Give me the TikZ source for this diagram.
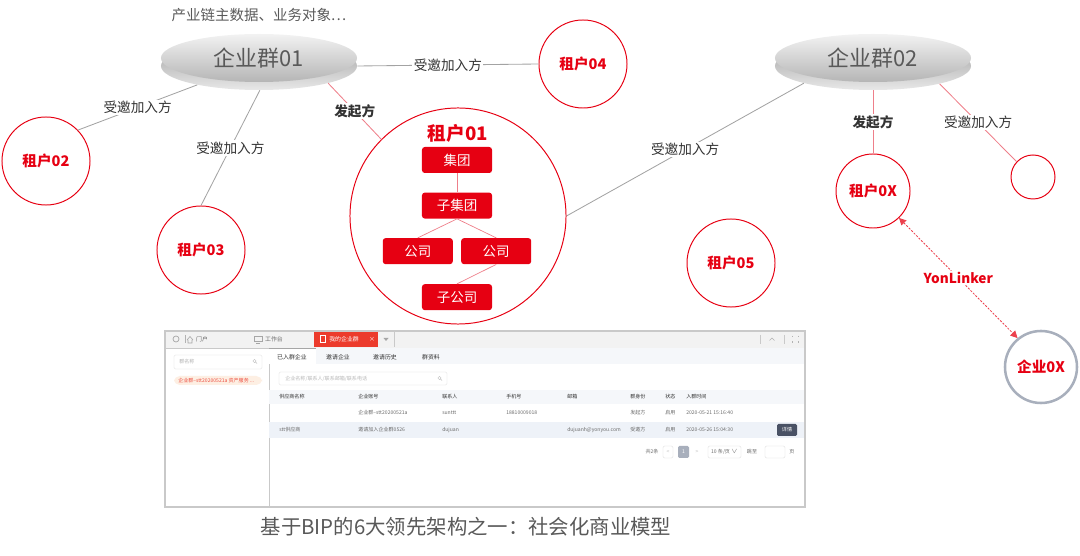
\documentclass[tikz,border=0pt]{standalone}
\definecolor{mRed}{HTML}{E60012}
\definecolor{mPink}{HTML}{EE7F8A}
\definecolor{mLine}{HTML}{A3A3A3}
\definecolor{mInk}{HTML}{333333}
\definecolor{mCap}{HTML}{595959}
\definecolor{mSlate}{HTML}{A8AFBC}
\definecolor{mFrame}{HTML}{C9C9C9}
\definecolor{mBar}{HTML}{F2F2F2}
\definecolor{mTab}{HTML}{EC3B2C}
\definecolor{mRowBg}{HTML}{EEF2F8}
\definecolor{mHeadBg}{HTML}{F5F7FA}
\definecolor{mBtn}{HTML}{4A5265}
\definecolor{mPill}{HTML}{FDEFE3}
\definecolor{mUiTxt}{HTML}{6B6B6B}
\usepackage{fontspec}
\setmainfont{Noto Sans CJK SC}
\usepackage{tikz}
\usetikzlibrary{positioning,arrows.meta,shapes.geometric}

\begin{document}
\begin{tikzpicture}[x=0.025cm, y=-0.025cm,
  tenant/.style={circle, draw=mRed, line width=0.7pt, minimum size=2.2cm, inner sep=0pt, text=mRed, font=\fontsize{10.4}{12}\selectfont\bfseries},
  grp/.style={ellipse, minimum width=4.9cm, minimum height=1.2cm, inner sep=0pt, text=mCap, font=\fontsize{15.6}{18}\selectfont},
  grpface/.style={grp, top color=gray!10, bottom color=gray!58},
  grprim/.style={grp, top color=gray!75, bottom color=gray!18},
  orgbox/.style={fill=mRed, rounded corners=2pt, minimum width=1.75cm, minimum height=0.65cm, inner sep=0pt, text=white, font=\fontsize{9.6}{11}\selectfont},
  lbl/.style={fill=white, inner sep=1pt, text=mInk, font=\fontsize{9.7}{11}\selectfont},
  lblb/.style={lbl, font=\fontsize{9.7}{11}\selectfont\bfseries},
  ui/.style={inner sep=0pt, text=mUiTxt, font=\fontsize{3.6}{4}\selectfont},
  uitab/.style={ui, text=mInk, font=\fontsize{4.2}{5}\selectfont},
]
\useasboundingbox (0,0) rectangle (1080,556);

% group discs
\node[grprim] (grp1b) at (259,66) {};
\node[grpface] (grp1) at (259,58) {企业群01};
\node[grprim] (grp2b) at (873,66) {};
\node[grpface] (grp2) at (873,58) {企业群02};
\node[text=mCap, font=\fontsize{10.3}{12}\selectfont] (note) at (259,15) {产业链主数据、业务对象…};

% tenants
\node[tenant] (t02) at (46,161) {租户02};
\node[tenant] (t03) at (201,250) {租户03};
\node[tenant] (t04) at (583,64) {租户04};
\node[tenant] (t05) at (731,263) {租户05};
\node[tenant, minimum size=5.4cm] (t01) at (458,216) {};
\node[text=mRed, font=\fontsize{13.3}{15}\selectfont\bfseries] (t01t) at (458,133) {租户01};
\node[tenant, minimum size=1.85cm] (t0x) at (873,191) {租户0X};
\node[tenant, minimum size=1.1cm] (t0y) at (1033,177) {};
\node[tenant, draw=mSlate, line width=1.8pt, minimum size=1.8cm] (e0x) at (1041,367) {企业0X};

% org tree inside 租户01
\node[orgbox] (jt) at (457,160) {集团};
\node[orgbox, below=0.475cm of jt] (zjt) {子集团};
\node[orgbox, below=0.475cm of zjt, xshift=-0.98cm] (gs1) {公司};
\node[orgbox, below=0.475cm of zjt, xshift=0.98cm] (gs2) {公司};
\node[orgbox, below=1.625cm of zjt] (zgs) {子公司};
\draw[mPink, line width=0.5pt] (jt.south) -- (zjt.north);
\draw[mPink, line width=0.5pt] (zjt.south) -- (gs1.north);
\draw[mPink, line width=0.5pt] (zjt.south) -- (gs2.north);
\draw[mPink, line width=0.5pt] (gs2.south) -- (zgs.north);

% links
\draw[mLine, line width=0.6pt] (grp1b.197) -- node[lbl]{受邀加入方} (t02.44);
\draw[mLine, line width=0.6pt] (grp1b.-88) -- node[lbl]{受邀加入方} (t03.90);
\draw[mLine, line width=0.6pt] (grp1b.east) -- node[lbl]{受邀加入方} (t04.west);
\draw[mPink, line width=0.6pt] (grp1b.-14) -- node[lblb]{发起方} (t01.135);
\draw[mLine, line width=0.6pt] (t01.0) -- node[lbl]{受邀加入方} (grp2b.194);
\draw[mPink, line width=0.6pt] (grp2b.south) -- node[lblb]{发起方} (t0x.north);
\draw[mPink, line width=0.6pt] (grp2b.-15) -- node[lbl]{受邀加入方} (t0y.137);
\draw[mRed!75, line width=0.6pt, dash pattern=on 1.5pt off 1pt, {Triangle[length=5pt,width=5pt]}-{Triangle[length=5pt,width=5pt]}] (t0x.-46) -- node[lblb, text=mRed]{YonLinker} (e0x.129);

% screenshot: 我的企业群
\fill[white] (165,331) rectangle (805,507);
\fill[mBar] (165,331) rectangle (805,348);
\fill[mTab] (314,332) rectangle (378,347);
\draw[mFrame, line width=0.3pt] (165,348) -- (805,348);
\draw[gray!70, line width=0.5pt] (176,339) circle (3);
\draw[gray!60, line width=0.3pt] (185,335) -- (185,343);
\draw[gray!70, line width=0.4pt] (187,340) -- (190,336.5) -- (193,340) (188,340) -- (188,343) -- (192,343) -- (192,340);
\node[uitab, text=mUiTxt] (tb1) at (202,339) {门户};
\draw[gray!70, line width=0.4pt] (254,336) rectangle (262,341.5) (256,343.5) -- (260,343.5);
\node[uitab, text=mUiTxt] (tb2) at (274,339) {工作台};
\draw[white, line width=0.4pt] (320,335.5) rectangle (325,342.5);
\node[uitab, text=white, anchor=west] (tb3) at (329,339) {我的企业群};
\node[uitab, text=white] (tb4) at (372,339.5) {×};
\fill[gray!70] (383.5,338) -- (388.5,338) -- (386,341) -- cycle;
\draw[mFrame, line width=0.3pt] (394,332) -- (394,347) (760,335) -- (760,344) (784,335) -- (784,344);
\draw[gray!60, line width=0.4pt] (769.5,340.5) -- (772,338) -- (774.5,340.5);
\draw[gray!60, line width=0.3pt] (792,336) -- (792,337.5) (798,336) -- (798,337.5) (792,341.5) -- (792,343) (798,341.5) -- (798,343);

% left panel
\draw[mFrame, line width=0.3pt] (269,348) -- (269,507);
\draw[gray!25, line width=0.3pt, rounded corners=1pt] (174,355) rectangle (262,369);
\node[ui, text=gray!60, anchor=west] (lp1) at (179,362) {群名称};
\draw[gray!50, line width=0.3pt] (254.5,361) circle (1.6) (255.6,362.1) -- (257,363.5);
\fill[mPill, rounded corners=4pt] (174,376) rectangle (262,385);
\node[ui, text=mTab!90, anchor=west] (lp2) at (178,380.5) {企业群--stt20200521a 资产服务 ...};

% right panel
\fill[mHeadBg] (269,348) rectangle (805,364);
\fill[white] (269,348) rectangle (316,364);
\draw[gray!70, line width=0.8pt] (269,348.5) -- (316,348.5);
\node[uitab] (st1) at (292,357) {已入群企业};
\node[uitab] (st2) at (338,357) {邀请企业};
\node[uitab] (st3) at (385,357) {邀请历史};
\node[uitab] (st4) at (431,357) {群资料};
\draw[gray!25, line width=0.3pt, rounded corners=1pt] (279,372) rectangle (447,385);
\node[ui, text=gray!55, anchor=west] (sb) at (285,378.5) {企业名称/联系人/联系邮箱/联系电话};
\draw[gray!50, line width=0.3pt] (439.5,378) circle (1.6) (440.6,379.1) -- (442,380.5);
\draw[mFrame, line width=0.5pt] (269,390) -- (805,390);
\fill[mHeadBg] (269,390.3) rectangle (805,404);
\foreach \cx/\txt [count=\i] in {279/供应商名称, 358/企业账号, 442/联系人, 506/手机号, 567/邮箱, 630/群身份, 665/状态, 686/入群时间}
  \node[ui, text=mInk, anchor=west] (hd\i) at (\cx,397) {\txt};
\foreach \cx/\txt [count=\i] in {358/企业群--stt20200521a, 442/sunttt, 506/18810009018, 630/发起方, 665/启用, 686/2020-05-21 15:16:40}
  \node[ui, anchor=west] (ra\i) at (\cx,413) {\txt};
\fill[mRowBg] (269,422) rectangle (805,438);
\foreach \cx/\txt [count=\i] in {279/stt供应商, 358/邀请加入企业群0526, 442/dujuan, 567/dujuanh@yonyou.com, 630/受邀方, 665/启用, 686/2020-05-26 15:04:30}
  \node[ui, anchor=west] (rb\i) at (\cx,430) {\txt};
\fill[mBtn, rounded corners=1pt] (777,424) rectangle (797,436);
\node[ui, text=white] (btn) at (787,430) {详情};

% pagination
\node[ui] (pg1) at (652,452) {共2条};
\draw[gray!30, line width=0.3pt, rounded corners=1pt] (663,446) rectangle (673,458);
\node[ui, text=gray!50] (pg2) at (668,452) {<};
\fill[mSlate, rounded corners=1pt] (678,446) rectangle (689,458);
\node[ui, text=white] (pg3) at (683.5,452) {1};
\node[ui, text=gray!50] (pg4) at (697,452) {>};
\draw[gray!30, line width=0.3pt, rounded corners=1pt] (708,446) rectangle (741,458);
\node[ui] (pg5) at (724.5,452) {10 条/页 $\vee$};
\node[ui] (pg6) at (752,452) {跳至};
\draw[gray!30, line width=0.3pt, rounded corners=1pt] (765,446) rectangle (785,458);
\node[ui] (pg7) at (792,452) {页};
\draw[mFrame, line width=0.8pt] (165,331) rectangle (805,507);

% caption
\node[text=mCap, font=\fontsize{14.5}{17}\selectfont] (cap) at (466,527) {基于BIP的6大领先架构之一：社会化商业模型};
\end{tikzpicture}
\end{document}
